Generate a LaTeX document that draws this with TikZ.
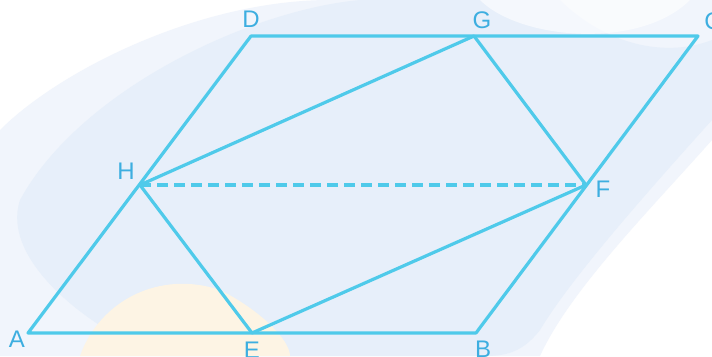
\documentclass[tikz,border=0pt]{standalone}
\usepackage{fontspec}
\setmainfont{Liberation Sans}
\definecolor{edge}{HTML}{4FCAEA}
\definecolor{lbl}{HTML}{3DAEE0}
\definecolor{blob}{HTML}{E7EFFA}
\definecolor{blobb}{HTML}{F1F5FC}
\definecolor{warm}{HTML}{FDF4E4}
\begin{document}
\begin{tikzpicture}[x=1pt,y=-1pt,
  seg/.style={draw=edge,line width=3.2pt,line cap=round,line join=round},
  dashseg/.style={draw=edge,line width=3.2pt,dash pattern=on 11pt off 6pt},
  lab/.style={text=lbl,font=\fontsize{24}{24}\selectfont,inner sep=0pt}]
\useasboundingbox (0,0) rectangle (712,356);
\fill[white] (0,0) rectangle (712,356);
% background blobs
\fill[blobb] (0,130) .. controls (60,70) and (200,0) .. (330,0) -- (712,0) -- (712,140) .. controls (650,210) and (570,290) .. (540,356) -- (0,356) -- cycle;
\fill[blob] (20,200) .. controls (80,90) and (250,10) .. (360,0) -- (560,0) .. controls (600,40) and (660,60) .. (712,40) -- (712,120) .. controls (640,200) and (570,280) .. (540,330) .. controls (520,356) and (500,356) .. (480,356) -- (160,356) .. controls (90,330) and (0,260) .. (20,200) -- cycle;
\fill[warm] (80,356) .. controls (100,300) and (160,270) .. (220,290) .. controls (260,310) and (290,340) .. (290,356) -- cycle;
\fill[white,opacity=0.6] (480,0) .. controls (520,40) and (640,50) .. (690,0) -- cycle;
% points
\coordinate (A) at (28,333);
\coordinate (B) at (476,333);
\coordinate (C) at (698,36);
\coordinate (D) at (251,36);
\coordinate (E) at (252,333);
\coordinate (F) at (586,185);
\coordinate (G) at (474,36);
\coordinate (H) at (140,185);
% edges
\draw[seg] (A) -- (B) -- (C) -- (D) -- cycle;
\draw[seg] (E) -- (F) -- (G) -- (H) -- cycle;
\draw[dashseg] (H) -- (F);
% labels
\node[lab] (lA) at (17,339) {A};
\node[lab] (lB) at (483,349) {B};
\node[lab] (lC) at (713,21) {C};
\node[lab] (lD) at (251,19) {D};
\node[lab] (lE) at (252,350) {E};
\node[lab] (lF) at (603,189) {F};
\node[lab] (lG) at (482,20) {G};
\node[lab] (lH) at (126,171) {H};
\end{tikzpicture}
\end{document}
